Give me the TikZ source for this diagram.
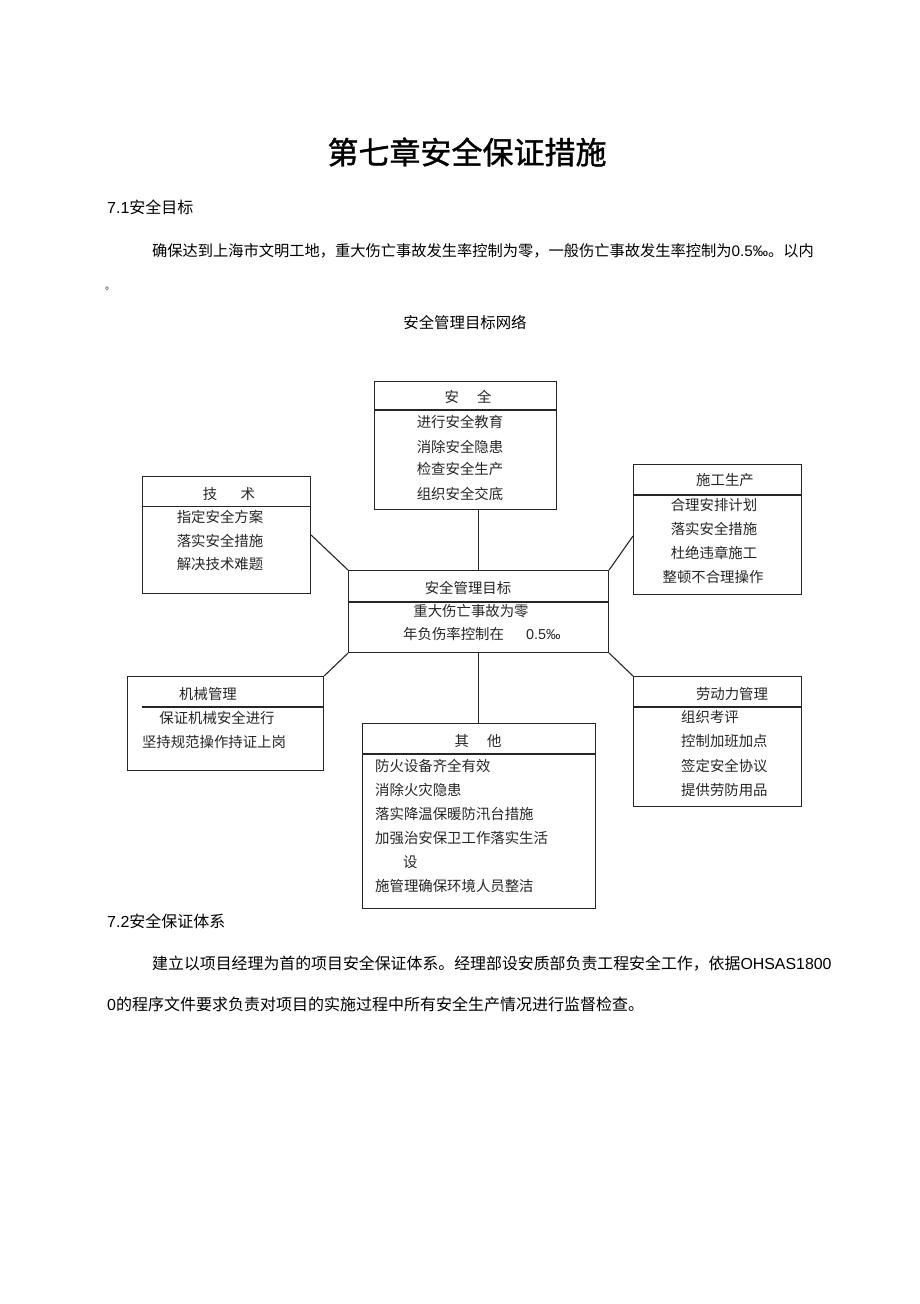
\documentclass[tikz,border=0pt]{standalone}
\usepackage{fontspec}
\setmainfont{Noto Sans CJK SC}
\newfontfamily\lat{Liberation Sans}
\newfontfamily\titlefont[FakeBold=1.2]{Noto Sans CJK SC}
\usetikzlibrary{calc}
\newcommand\fsz[1]{\fontsize{#1}{#1}\selectfont}
\tikzset{
  box/.style={draw=black!85, line width=1.1pt, inner sep=0pt, anchor=north west},
  div/.style={draw=black!85, line width=1.1pt},
  conn/.style={draw=black!85, line width=1.1pt},
  dt/.style={font=\fsz{14.4}, text=black!85, inner sep=0pt},
  bt/.style={font=\fsz{16}, text=black, inner sep=0pt},
}
\begin{document}
\begin{tikzpicture}[x=1pt,y=-1pt]
\useasboundingbox (0,0) rectangle (920,1304);
% page text
\node[font={\titlefont\fsz{31}}, inner sep=0pt] (title) at (467,152) {第七章安全保证措施};
\node[bt, anchor=west] (s71) at (107,207) {{\lat 7.1}安全目标};
\node[bt, font=\fsz{15.25}, anchor=west] (p1) at (152,251) {确保达到上海市文明工地，重大伤亡事故发生率控制为零，一般伤亡事故发生率控制为{\lat 0.5‰}。以内};
\node[font=\fsz{10}, inner sep=0pt] (p1b) at (110,289) {。};
\node[font=\fsz{15.4}, inner sep=0pt] (cap) at (465,323) {安全管理目标网络};
\node[bt, anchor=west] (s72) at (107,921) {{\lat 7.2}安全保证体系};
\node[bt, font=\fsz{15.9}, anchor=west] (p2) at (152,964) {建立以项目经理为首的项目安全保证体系。经理部设安质部负责工程安全工作，依据{\lat OHSAS1800}};
\node[bt, anchor=west] (p2b) at (107,1004) {{\lat 0}的程序文件要求负责对项目的实施过程中所有安全生产情况进行监督检查。};

% boxes
\node[box, minimum width=182pt, minimum height=128pt] (anquan) at (374,381) {};
\draw[div] ($(anquan.north west)+(0,29)$) -- ($(anquan.north east)+(0,29)$);
\node[dt] (aqh) at (468,397) {安\hspace{18pt}全};
\node[dt] (aq1) at (460,422) {进行安全教育};
\node[dt] (aq2) at (460,447) {消除安全隐患};
\node[dt] (aq3) at (460,469) {检查安全生产};
\node[dt] (aq4) at (460,494) {组织安全交底};

\node[box, minimum width=168pt, minimum height=117pt] (jishu) at (142,476) {};
\draw[div, line width=1.8pt] ($(jishu.north west)+(0,30.5)$) -- ($(jishu.north east)+(0,30.5)$);
\node[dt] (jsh) at (229,494) {技\hspace{23.5pt}术};
\node[dt] (js1) at (220,517) {指定安全方案};
\node[dt] (js2) at (220,541) {落实安全措施};
\node[dt] (js3) at (220,564) {解决技术难题};

\node[box, minimum width=168pt, minimum height=130pt] (shigong) at (633,464) {};
\draw[div] ($(shigong.north west)+(0,31)$) -- ($(shigong.north east)+(0,31)$);
\node[dt] (sgh) at (725,480) {施工生产};
\node[dt] (sg1) at (714,505) {合理安排计划};
\node[dt] (sg2) at (714,529) {落实安全措施};
\node[dt] (sg3) at (714,553) {杜绝违章施工};
\node[dt] (sg4) at (713,577) {整顿不合理操作};

\node[box, minimum width=260pt, minimum height=82pt] (goal) at (348,570) {};
\draw[div] ($(goal.north west)+(0,32)$) -- ($(goal.north east)+(0,32)$);
\node[dt] (gh) at (468,588) {安全管理目标};
\node[dt] (g1) at (471,611) {重大伤亡事故为零};
\node[dt, anchor=west] (g2) at (403,634) {年负伤率控制在\hspace{22pt}{\lat 0.5‰}};

\node[box, minimum width=196pt, minimum height=94pt] (jixie) at (127,676) {};
\draw[div] ($(jixie.north west)+(15,31)$) -- ($(jixie.north east)+(0,31)$);
\node[dt] (jxh) at (208,694) {机械管理};
\node[dt] (jx1) at (217,718) {保证机械安全进行};
\node[dt] (jx2) at (214,742) {坚持规范操作持证上岗};

\node[box, minimum width=233pt, minimum height=185pt] (qita) at (362,723) {};
\draw[div, line width=1.6pt] ($(qita.north west)+(0,31)$) -- ($(qita.north east)+(0,31)$);
\node[dt] (qth) at (478,741) {其\hspace{18pt}他};
\node[dt, anchor=west] (qt1) at (375,766) {防火设备齐全有效};
\node[dt, anchor=west] (qt2) at (375,790) {消除火灾隐患};
\node[dt, anchor=west] (qt3) at (375,814) {落实降温保暖防汛台措施};
\node[dt, anchor=west] (qt4) at (375,838) {加强治安保卫工作落实生活};
\node[dt, anchor=west] (qt5) at (403,862) {设};
\node[dt, anchor=west] (qt6) at (375,886) {施管理确保环境人员整洁};

\node[box, minimum width=168pt, minimum height=130pt] (laodong) at (633,676) {};
\draw[div] ($(laodong.north west)+(0,31)$) -- ($(laodong.north east)+(0,31)$);
\node[dt] (ldh) at (732,694) {劳动力管理};
\node[dt, anchor=west] (ld1) at (681,717) {组织考评};
\node[dt, anchor=west] (ld2) at (681,741) {控制加班加点};
\node[dt, anchor=west] (ld3) at (681,766) {签定安全协议};
\node[dt, anchor=west] (ld4) at (681,790) {提供劳防用品};

% connectors
\draw[conn] (goal.north) -- (goal.north |- anquan.south);
\draw[conn] ($(jishu.north east)!0.5!(jishu.south east)$) -- (goal.north west);
\draw[conn] ($(shigong.north west)+(0,72)$) -- (goal.north east);
\draw[conn] (goal.south west) -- (jixie.north east);
\draw[conn] (goal.south east) -- (laodong.north west);
\draw[conn] (goal.south) -- (goal.south |- qita.north);
\end{tikzpicture}
\end{document}
